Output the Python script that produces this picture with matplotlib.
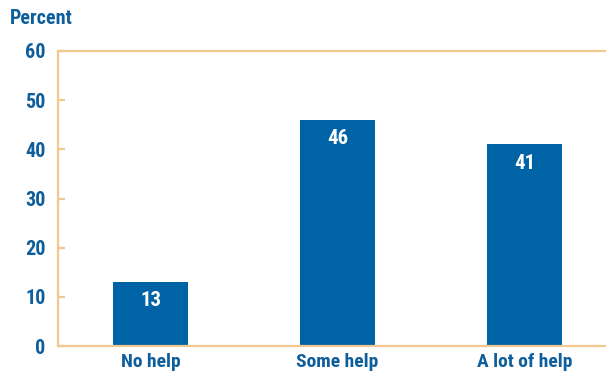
import matplotlib
matplotlib.use("Agg")
import matplotlib.pyplot as plt
from matplotlib import font_manager

categories = ["No help", "Some help", "A lot of help"]
percent = [13, 46, 41]
y_ticks = [0, 10, 20, 30, 40, 50, 60]

BLUE = "#0063A6"
TEXT_BLUE = "#0F5E9C"
TAN = "#F0C890"

# prefer a narrow face if one is installed
names = {f.name for f in font_manager.fontManager.ttflist}
narrow = [n for n in ["Liberation Sans Narrow", "Roboto Condensed", "Open Sans Condensed"] if n in names]
plt.rcParams["font.family"] = (narrow[:1] or ["Liberation Sans"]) + ["DejaVu Sans"]

fig = plt.figure(figsize=(6.06, 3.75), dpi=100)
ax = fig.add_axes([58 / 606, 1 - 346 / 375, 548 / 606, 295 / 375])

x = list(range(len(categories)))
ax.bar(x, percent, width=0.40, color=BLUE, zorder=2)

for xi, v in zip(x, percent):
    ax.annotate(str(v), (xi, v), xytext=(0, -13.5), textcoords="offset points",
                ha="center", va="center", color="white", fontsize=15, fontweight="bold")

ax.set_xlim(-0.4947, 2.436)
ax.set_ylim(0, 60)
ax.set_yticks(y_ticks)
ax.set_xticks(x)
ax.set_xticklabels(categories)

ax.spines["right"].set_visible(False)
for side in ["left", "bottom", "top"]:
    ax.spines[side].set_color(TAN)
    ax.spines[side].set_linewidth(1.6)

ax.tick_params(axis="y", direction="in", length=5, width=1.6, color=TAN,
               labelcolor=TEXT_BLUE, labelsize=14.5, pad=9)
ax.tick_params(axis="x", length=0, labelcolor=TEXT_BLUE, labelsize=14, pad=5)
for lbl in ax.get_yticklabels() + ax.get_xticklabels():
    lbl.set_fontweight("bold")

fig.text(10 / 606, 1 - 19 / 375, "Percent", color=TEXT_BLUE, fontsize=14.5,
         fontweight="bold", ha="left", va="center")

fig.savefig("out.png", dpi=100)
